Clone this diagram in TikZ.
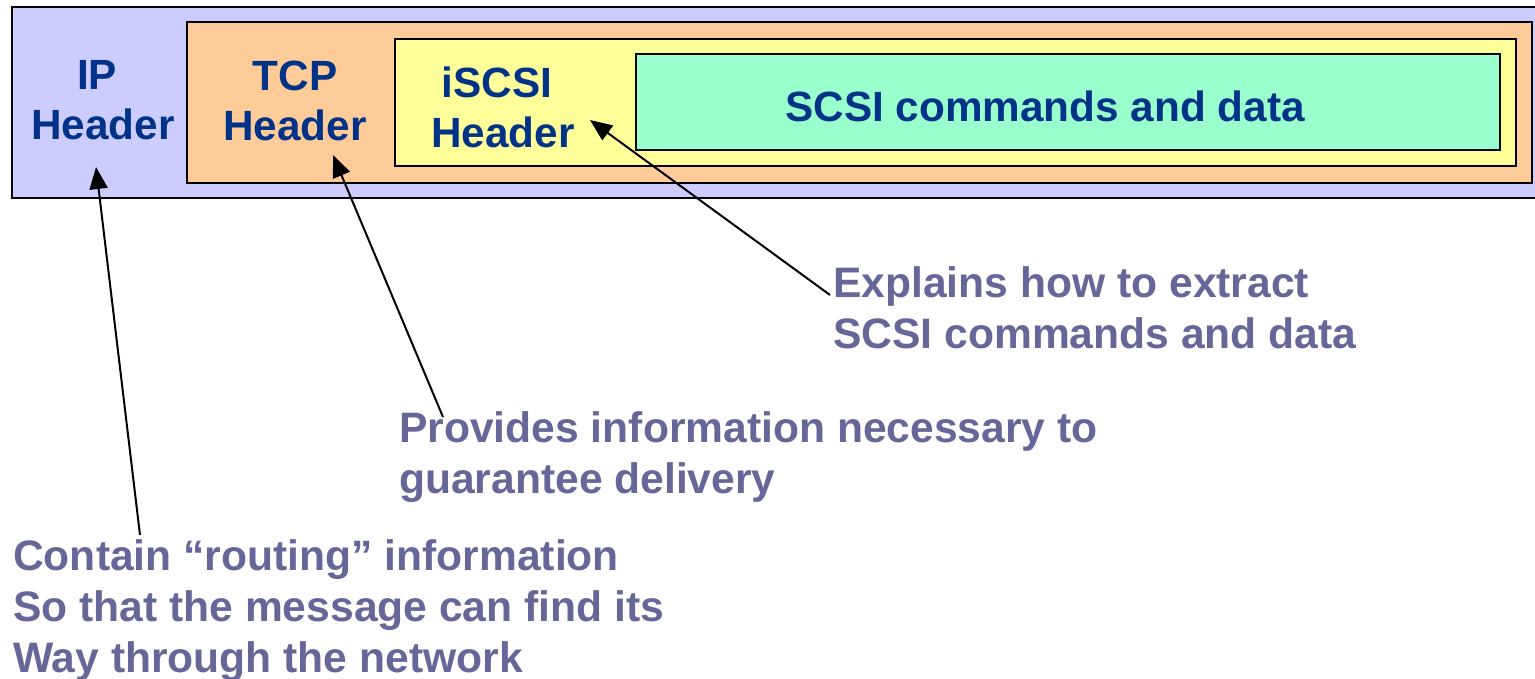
\documentclass[tikz,border=0pt]{standalone}
\usepackage{fontspec}
\setmainfont{Liberation Sans}
\usetikzlibrary{arrows.meta}

\definecolor{ipfill}{HTML}{CCCCFF}
\definecolor{tcpfill}{HTML}{FFCC99}
\definecolor{iscsifill}{HTML}{FFFF99}
\definecolor{datafill}{HTML}{99FFCC}
\definecolor{hdrtext}{HTML}{003388}
\definecolor{notetext}{HTML}{666699}

\tikzset{
  layer/.style={draw=black, line width=2.8pt},
  hdrlabel/.style={font=\fontsize{42.3}{50}\selectfont\bfseries, text=hdrtext,
    align=center, inner sep=0pt},
  notelabel/.style={font=\fontsize{42.6}{51}\selectfont\bfseries, text=notetext,
    align=left, inner sep=0pt, anchor=north west},
  pointer/.style={draw=black, line width=2pt,
    -{Triangle[length=22pt, width=18pt]}},
}

\begin{document}
\begin{tikzpicture}[x=1pt, y=-1pt]
  \clip (0,0) rectangle (1535,679);
  \fill[white] (0,0) rectangle (1535,679);

  % nested encapsulation layers
  \draw[layer, fill=ipfill]    (12,7)   rectangle (1560,198);
  \draw[layer, fill=tcpfill]   (187,22) rectangle (1532,183);
  \draw[layer, fill=iscsifill] (395,39) rectangle (1516,166);
  \draw[layer, fill=datafill]  (636,54) rectangle (1500,150);

  % header labels
  \node[hdrlabel] (iphdr)    at (103,100.5) {IP\hspace*{12pt}\\Header};
  \node[hdrlabel] (tcphdr)   at (295,100.5) {TCP\\Header};
  \node[hdrlabel] (iscsihdr) at (503,107)   {iSCSI\hspace*{12pt}\\Header};
  \node[hdrlabel, anchor=base] (payload) at (1045,122) {SCSI commands and data};

  % explanatory notes
  \node[notelabel] (iscsinote) at (833,266.5) {Explains how to extract\\SCSI commands and data};
  \node[notelabel] (tcpnote)   at (399,411.5) {Provides information necessary to\\guarantee delivery};
  \node[notelabel] (ipnote)    at (13,539.5)  {Contain “routing” information\\So that the message can find its\\Way through the network};

  % pointer ends
  \coordinate (iptail)    at (140,535);
  \coordinate (iptip)     at (96,167);
  \coordinate (tcptail)   at (443,417);
  \coordinate (tcptip)    at (333,155);
  \coordinate (iscsitail) at (830,295);
  \coordinate (iscsitip)  at (590,120);

  \draw[pointer] (iptail) -- (iptip);
  \draw[pointer] (tcptail) -- (tcptip);
  \draw[pointer] (iscsitail) -- (iscsitip);
\end{tikzpicture}
\end{document}
